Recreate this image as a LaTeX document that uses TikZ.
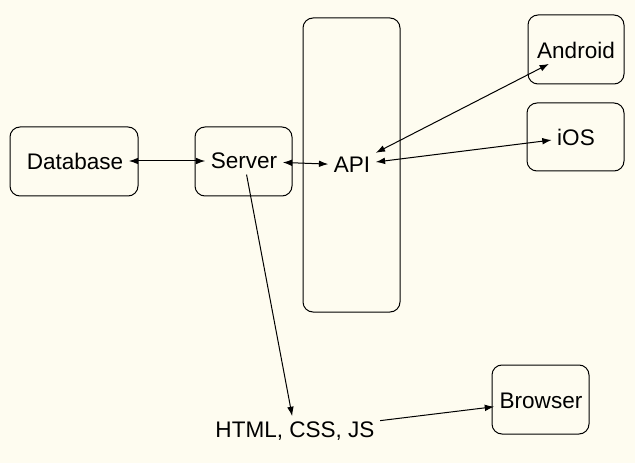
\documentclass[tikz,border=0pt]{standalone}
\usepackage{fontspec}
\setmainfont{Liberation Sans}
\usetikzlibrary{arrows.meta}
\definecolor{paper}{RGB}{254,252,240}
\begin{document}
\begin{tikzpicture}[x=0.75pt,y=-0.75pt,
    font=\fontsize{16.9}{20}\selectfont,
    box/.style={draw,rounded corners=7.5pt,line width=0.75pt,minimum height=51.75pt},
    lbl/.style={inner sep=4pt},
    link/.style={line width=0.75pt,{Latex[length=7pt,width=5pt]}-{Latex[length=7pt,width=5pt]}},
    feed/.style={line width=0.75pt,-{Latex[length=7pt,width=5pt]}}]
  \fill[paper] (0,0) rectangle (635,463);
  \useasboundingbox (0,0) rectangle (635,463);
  % boxes
  \node[box,minimum width=96pt] (dbbox) at (74,161.5) {};
  \node[box,minimum width=72.75pt] (srvbox) at (243.5,161.5) {};
  \node[box,minimum width=72.75pt,minimum height=220.5pt] (apibox) at (351.5,165) {};
  \node[box,minimum width=72pt] (andbox) at (576,49.5) {};
  \node[box,minimum width=72.75pt,minimum height=51pt] (iosbox) at (575.5,137) {};
  \node[box,minimum width=72.75pt] (brwbox) at (540.5,399.5) {};
  % labels
  \node[lbl] (db) at (75,161) {Database};
  \node[lbl] (srv) at (244,161) {Server};
  \node[lbl] (api) at (352,165) {API};
  \node[lbl] (and) at (576,50) {Android};
  \node[lbl] (ios) at (576,137) {iOS};
  \node[lbl] (brw) at (541,401) {Browser};
  \node[lbl] (web) at (295,431) {HTML, CSS, JS};
  % arrows
  \draw[link] (db) -- (srv);
  \draw[link] (srv) -- (api);
  \draw[link] (api) -- (and);
  \draw[link] (api) -- (ios);
  \draw[feed] (srv) -- (web);
  \draw[feed] (web) -- (brw);
\end{tikzpicture}
\end{document}
